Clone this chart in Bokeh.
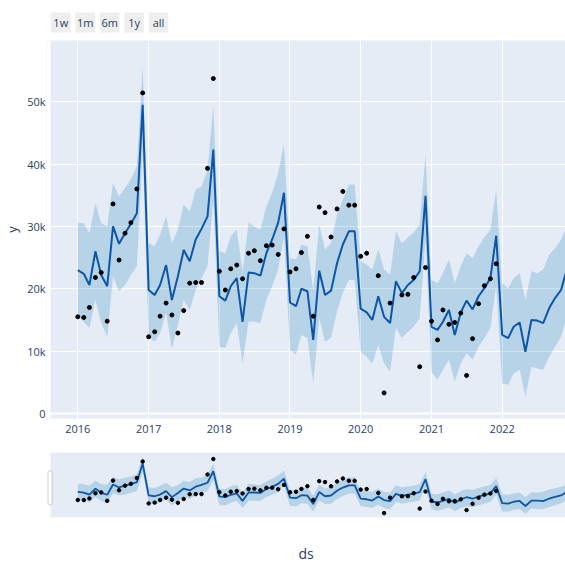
import pandas as pd
import numpy as np
from bokeh.plotting import figure
from bokeh.layouts import column
from bokeh.models import (Range1d, FixedTicker, Span, ColumnDataSource,
                          DatetimeTickFormatter, BoxAnnotation)
from bokeh.embed import file_html
from bokeh.resources import INLINE

# ---- data: monthly history and forecast ----
ds = pd.date_range("2016-01-01", periods=84, freq="MS")

nan = float("nan")
y_obs = [
    15.5, 15.4, 17.0, 21.8, 22.6, 14.8, 33.6, 24.6, 28.9, 30.6, 36.0, 51.4,
    12.3, 13.1, 15.6, 17.7, 15.8, 12.9, 16.5, 20.9, 21.0, 21.0, 39.3, 53.7,
    22.8, 19.8, 23.2, 23.8, 21.6, 25.7, 26.1, 24.5, 26.9, 27.0, 25.5, 29.6,
    22.7, 23.2, 25.8, 28.4, 15.6, 33.1, 32.2, 28.3, 32.8, 35.6, 33.4, 33.4,
    25.2, 25.7, nan, 22.1, 3.3, 17.7, nan, 19.0, 19.1, 21.8, 7.5, 23.4,
    14.8, 11.8, 16.6, 14.3, 14.6, 16.1, 6.1, 12.0, 17.6, 20.5, 21.6, 24.0,
]
yhat = [
    23.0, 22.4, 20.6, 26.0, 22.2, 20.4, 30.0, 27.2, 28.9, 30.4, 32.1, 49.5,
    19.8, 19.0, 20.6, 23.8, 18.2, 22.0, 26.2, 24.4, 27.9, 29.6, 31.6, 42.3,
    18.8, 18.1, 20.4, 21.7, 14.7, 22.6, 22.5, 22.1, 25.7, 27.9, 30.6, 35.4,
    17.8, 17.2, 20.0, 19.6, 11.8, 22.9, 19.0, 19.7, 24.1, 27.1, 29.2, 29.2,
    16.8, 16.2, 15.0, 18.8, 15.5, 14.5, 21.2, 19.3, 20.6, 21.4, 22.8, 34.9,
    13.9, 13.4, 14.7, 16.6, 12.6, 16.2, 18.1, 16.7, 18.8, 20.1, 21.7, 28.5,
    12.6, 12.1, 13.9, 14.6, 9.9, 15.0, 14.9, 14.5, 16.9, 18.5, 19.8, 23.1,
]
yhat_upper = [
    30.6, 30.5, 28.9, 33.7, 30.5, 30.0, 37.0, 34.8, 36.2, 37.5, 39.6, 55.7,
    27.3, 26.8, 28.7, 31.6, 27.3, 29.5, 33.5, 32.4, 35.9, 36.4, 39.1, 49.3,
    26.0, 25.7, 28.4, 29.5, 22.8, 30.6, 30.0, 29.5, 33.2, 35.4, 38.6, 43.2,
    24.9, 24.7, 27.1, 26.8, 19.8, 30.3, 26.3, 27.3, 31.9, 34.3, 36.7, 36.7,
    24.4, 23.9, 23.1, 26.3, 23.1, 22.3, 29.2, 27.3, 28.2, 29.0, 30.3, 41.6,
    21.4, 20.9, 22.5, 24.7, 20.9, 23.6, 25.7, 24.9, 26.8, 28.2, 29.5, 35.9,
    20.9, 20.1, 21.7, 22.5, 18.2, 22.8, 22.5, 23.1, 25.5, 26.5, 27.9, 30.0,
]
yhat_lower = [
    15.5, 14.7, 13.7, 18.2, 14.5, 12.3, 22.0, 19.6, 20.6, 22.2, 23.6, 42.0,
    12.3, 11.5, 12.9, 16.1, 10.4, 14.2, 18.2, 16.6, 19.8, 21.7, 23.6, 34.3,
    10.7, 10.5, 12.9, 14.5, 8.0, 14.7, 14.7, 14.5, 18.2, 20.4, 23.1, 28.4,
    10.2, 9.5, 12.6, 12.1, 4.8, 15.3, 11.5, 12.1, 16.4, 19.3, 21.4, 21.4,
    9.9, 9.1, 8.0, 11.0, 8.0, 6.7, 13.7, 12.1, 13.1, 13.9, 15.3, 27.9,
    6.7, 5.4, 7.0, 8.6, 5.1, 8.0, 9.7, 8.6, 10.7, 12.1, 13.7, 20.4,
    4.8, 4.6, 6.4, 7.0, 2.7, 7.5, 7.2, 7.0, 9.1, 10.7, 12.3, 15.5,
]

year_ticks = [pd.Timestamp(f"{yr}-01-01") for yr in range(2016, 2023)]
y_ticks = [0, 10000, 20000, 30000, 40000, 50000]
y_tick_labels = ["0", "10k", "20k", "30k", "40k", "50k"]
buttons = ["1w", "1m", "6m", "1y", "all"]

K = 1000.0
fc = ColumnDataSource(dict(
    ds=ds,
    yhat=np.array(yhat) * K,
    upper=np.array(yhat_upper) * K,
    lower=np.array(yhat_lower) * K,
))
obs = ColumnDataSource(dict(ds=ds[:len(y_obs)], y=np.array(y_obs) * K))

# ---- style ----
FONT = "Open Sans"
TXT = "#2a3f5f"
BG = "#E5ECF6"
BAND = "#0072B2"
LINE = "#0d56a6"
W = 565
LEFT = 46          # left edge of every panel's frame (the columns share it)

x_start = pd.Timestamp("2015-08-13")    # left edge of the plotting area
x_end = pd.Timestamp("2022-11-24")
day_px = (x_end - x_start).days / 515.0
x_lead = x_start - pd.Timedelta(days=4 * day_px)   # frame edge, 4px further left
y_lo, y_hi = -800, 59800


def ms(t):
    return t.value / 1e6


# ---- range-selector buttons ----
top = figure(width=W, height=40, x_range=Range1d(LEFT, W), y_range=Range1d(40, 0),
             x_axis_type=None, y_axis_type=None, toolbar_location=None,
             output_backend="svg", min_border_left=LEFT, min_border_right=0,
             min_border_top=0, min_border_bottom=0)
top.outline_line_color = None
top.background_fill_color = "white"
top.border_fill_color = "white"
top.grid.visible = False
bx = [50.5 + i * 24.45 for i in range(len(buttons))]
top.quad(left=bx, right=[b + 19.5 for b in bx], top=[12] * len(bx),
         bottom=[32] * len(bx), fill_color="#eeeeee", line_color=None)
top.text(x=[b + 9.75 for b in bx], y=[22] * len(bx), text=buttons,
         text_align="center", text_baseline="middle",
         text_font={"value": FONT}, text_font_size="11px", text_color=TXT)

# ---- main forecast panel ----
p = figure(width=W, height=412, x_axis_type="datetime",
           x_range=Range1d(x_lead, x_end), y_range=Range1d(y_lo, y_hi),
           toolbar_location=None, output_backend="svg",
           min_border_left=LEFT, min_border_right=0, min_border_top=0,
           min_border_bottom=34)
p.background_fill_color = BG
p.border_fill_color = "white"
p.outline_line_color = None
# white margin strip between the frame edge and the plotting area
p.add_layout(BoxAnnotation(right=ms(x_start), fill_color="white", fill_alpha=1.0,
                           line_color=None, level="glyph"))

p.xaxis.ticker = FixedTicker(ticks=[ms(t) for t in year_ticks])
p.xaxis.formatter = DatetimeTickFormatter(
    years="%Y", months="%Y", days="%Y", hours="%Y", minutes="%Y",
    seconds="%Y", milliseconds="%Y", microseconds="%Y", hourmin="%Y",
    minsec="%Y")
p.yaxis.ticker = FixedTicker(ticks=y_ticks)
p.yaxis.major_label_overrides = dict(zip(y_ticks, y_tick_labels))
p.yaxis.axis_label = "y"
p.yaxis.axis_label_standoff = 3
p.yaxis.axis_label_text_font_style = "normal"
p.yaxis.axis_label_text_font = FONT
p.yaxis.axis_label_text_font_size = "13px"
p.yaxis.axis_label_text_color = TXT
for ax in (p.xaxis, p.yaxis):
    ax.axis_line_color = None
    ax.major_tick_line_color = None
    ax.minor_tick_line_color = None
    ax.major_tick_out = 0
    ax.major_tick_in = 0
    ax.minor_tick_out = 0
    ax.minor_tick_in = 0
    ax.major_label_text_font = FONT
    ax.major_label_text_font_size = "11px"
    ax.major_label_text_color = TXT
p.xaxis.major_label_standoff = 6
p.yaxis.major_label_standoff = 1
p.xgrid.grid_line_color = "white"
p.ygrid.grid_line_color = "white"
p.xgrid.grid_line_width = 1
p.ygrid.grid_line_width = 1
p.add_layout(Span(location=0, dimension="width", line_color="white",
                  line_width=2, level="underlay"))

p.varea(x="ds", y1="lower", y2="upper", source=fc, fill_color=BAND,
        fill_alpha=0.2)
p.line(x="ds", y="yhat", source=fc, line_color=LINE, line_width=2)
p.scatter(x="ds", y="y", source=obs, size=4, color="black")

# ---- range slider overview ----
s = figure(width=W, height=113, x_axis_type="datetime",
           x_range=Range1d(x_lead, x_end), y_range=Range1d(y_lo, y_hi),
           toolbar_location=None, output_backend="svg",
           min_border_left=LEFT, min_border_right=0, min_border_top=0,
           min_border_bottom=41)
s.background_fill_color = "white"
s.border_fill_color = "white"
s.outline_line_color = None
s.grid.visible = False
s.yaxis.visible = False
s.add_layout(BoxAnnotation(left=ms(x_start), fill_color=BG, fill_alpha=1.0,
                           line_color=None, level="underlay"))
s.varea(x="ds", y1="lower", y2="upper", source=fc, fill_color=BAND,
        fill_alpha=0.2)
s.line(x="ds", y="yhat", source=fc, line_color=LINE, line_width=1.8)
s.scatter(x="ds", y="y", source=obs, size=3.5, color="black")

# left grab handle of the slider
ypx = (y_hi - y_lo) / 72.0
s.add_layout(BoxAnnotation(
    left=ms(x_start - pd.Timedelta(days=2.5 * day_px)),
    right=ms(x_start + pd.Timedelta(days=1.5 * day_px)),
    top=y_hi - 20 * ypx, bottom=y_hi - 58 * ypx,
    fill_color="white", fill_alpha=1.0, line_color="#666666", line_width=1,
    border_radius=2))

s.xaxis.ticker = FixedTicker(ticks=[])
s.xaxis.axis_line_color = None
s.xaxis.major_tick_line_color = None
s.xaxis.minor_tick_line_color = None
s.xaxis.major_tick_out = 0
s.xaxis.major_tick_in = 0
s.xaxis.axis_label = "ds"
s.xaxis.axis_label_standoff = 26
s.xaxis.axis_label_text_font_style = "normal"
s.xaxis.axis_label_text_font = FONT
s.xaxis.axis_label_text_font_size = "14px"
s.xaxis.axis_label_text_color = TXT

layout = column(top, p, s, spacing=0)
open("out.html", "w").write(file_html(layout, INLINE))
